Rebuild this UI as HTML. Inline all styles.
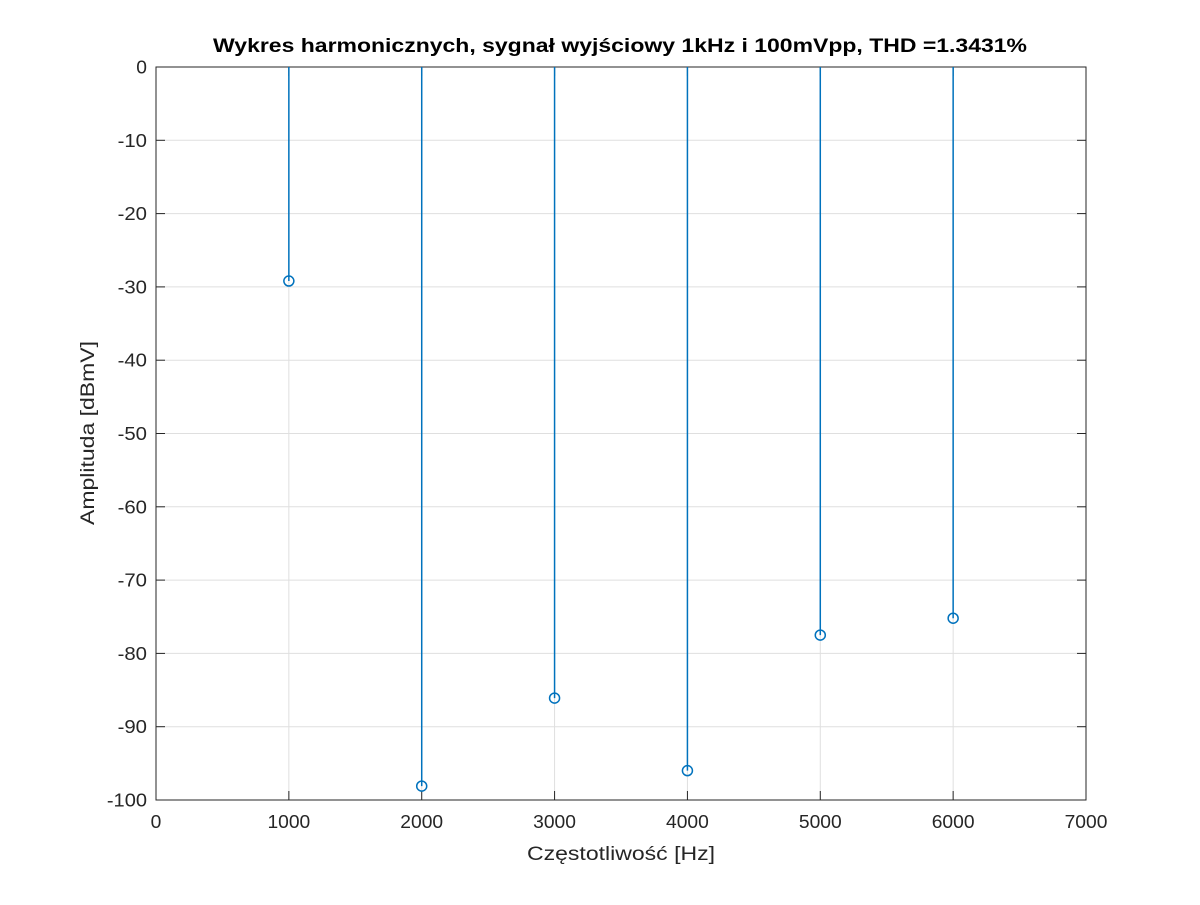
<!DOCTYPE html>
<html><head><meta charset="utf-8"><style>
body{margin:0;background:#fff;}
svg text{font-family:"Liberation Sans",Arial,sans-serif;}
</style></head><body>
<svg id="chart" width="1200" height="900" xmlns="http://www.w3.org/2000/svg">
<rect width="1200" height="900" fill="#fff"/>
<g id="grid"></g>
<rect x="156" y="67" width="930" height="733" fill="none" stroke="#262626" stroke-width="1"/>
<g id="ticks"></g>
<g id="marks"></g>
<text x="620" y="52" text-anchor="middle" font-size="19" font-weight="bold" fill="#000" textLength="814" lengthAdjust="spacingAndGlyphs">Wykres harmonicznych, sygnał wyjściowy 1kHz i 100mVpp, THD =1.3431%</text>
<text x="621" y="860" text-anchor="middle" font-size="19" fill="#262626" textLength="188" lengthAdjust="spacingAndGlyphs">Częstotliwość [Hz]</text>
<text transform="translate(94,433) rotate(-90)" text-anchor="middle" font-size="19" fill="#262626" textLength="184" lengthAdjust="spacingAndGlyphs">Amplituda [dBmV]</text>
</svg>
<script>
const freqs=[1000,2000,3000,4000,5000,6000];
const amps=[-29.2,-98.1,-86.1,-96.0,-77.5,-75.2];
const xTicks=[0,1000,2000,3000,4000,5000,6000,7000];
const yTicks=[0,-10,-20,-30,-40,-50,-60,-70,-80,-90,-100];
const L=156,R=1086,T=67,B=800;
const xs=v=>L+(v-0)/7000*(R-L);
const ys=v=>T+(0-v)/100*(B-T);
const NS="http://www.w3.org/2000/svg";
function mk(tag,attrs,parent){const e=document.createElementNS(NS,tag);for(const k in attrs)e.setAttribute(k,attrs[k]);parent.appendChild(e);return e;}
function tl(s){let w=0;for(const c of String(s))w+=(c==='-'?8:10.7);return w;}
const grid=document.getElementById('grid'),ticks=document.getElementById('ticks'),marks=document.getElementById('marks');
xTicks.forEach(v=>{
 const x=xs(v);
 const g=mk('line',{x1:x,x2:x,y1:T,y2:B,stroke:'#dfdfdf','stroke-width':1},grid);
 
 
 mk('line',{x1:x,x2:x,y1:B,y2:B-9,stroke:'#262626'},ticks);
 mk('line',{x1:x,x2:x,y1:T,y2:T+9,stroke:'#262626'},ticks);
 const t=mk('text',{x:x,y:B+28,'text-anchor':'middle','font-size':18,fill:'#262626',textLength:tl(v),lengthAdjust:'spacingAndGlyphs'},ticks);
 t.textContent=v;
 
 
});
yTicks.forEach(v=>{
 const y=ys(v);
 const g=mk('line',{x1:L,x2:R,y1:y,y2:y,stroke:'#dfdfdf','stroke-width':1},grid);
 
 
 mk('line',{x1:L,x2:L+9,y1:y,y2:y,stroke:'#262626'},ticks);
 mk('line',{x1:R,x2:R-9,y1:y,y2:y,stroke:'#262626'},ticks);
 const t=mk('text',{x:L-9,y:y+6.5,'text-anchor':'end','font-size':18,fill:'#262626',textLength:tl(v),lengthAdjust:'spacingAndGlyphs'},ticks);
 t.textContent=v;
 
 
});
freqs.forEach((f,i)=>{
 const x=xs(f),y=ys(amps[i]);
 const s=mk('line',{x1:x,x2:x,y1:ys(0),y2:y,stroke:'#0072bd','stroke-width':1.5},marks);
 
 
 const c=mk('circle',{cx:x,cy:y,r:5,fill:'none',stroke:'#0072bd','stroke-width':1.5},marks);
 
 
});
</script>
</body></html>
